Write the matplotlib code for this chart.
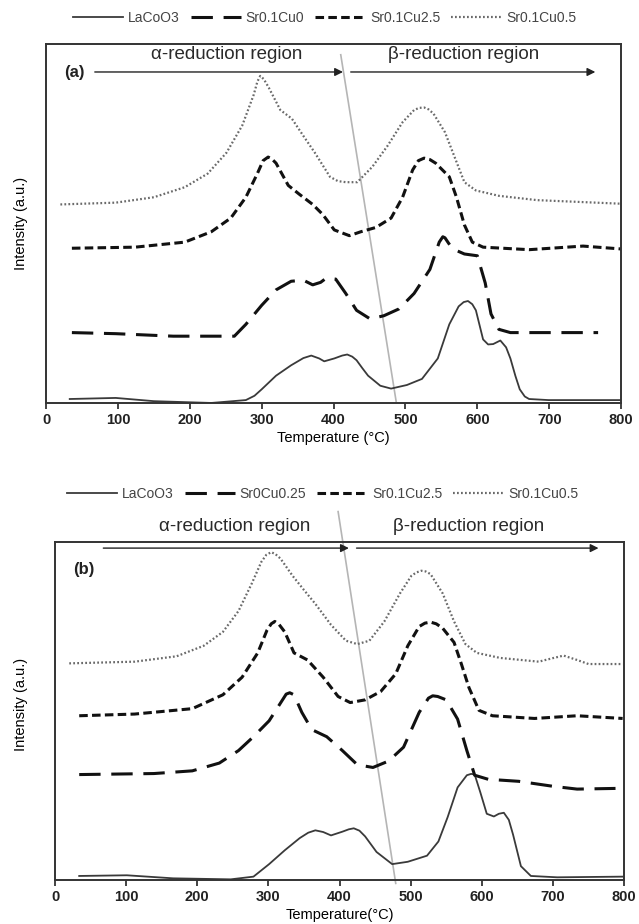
import matplotlib
matplotlib.use("Agg")
import matplotlib.pyplot as plt

plt.rcParams['font.family'] = ['Liberation Sans', 'DejaVu Sans']

# ---- panel (a) data (temperature in C, intensity in % of plot height) ----
a_laco_t = [33, 97, 150, 230, 278, 290, 300, 320, 341, 358, 369, 380, 387, 401, 412, 419, 426, 432, 440,
            448, 465, 480, 502, 523, 545, 561, 574, 581, 587, 593, 598, 608, 615, 622, 632, 640, 646, 653,
            659, 666, 672, 699, 800]
a_laco_y = [1.1, 1.4, 0.5, 0.0, 0.8, 2.0, 3.8, 7.6, 10.5, 12.5, 13.2, 12.4, 11.6, 12.4, 13.2, 13.5, 12.9, 11.9, 9.7,
            7.6, 4.8, 4.0, 5.0, 6.7, 12.4, 21.9, 26.9, 28.1, 28.4, 27.5, 25.8, 17.7, 16.3, 16.4, 17.4, 15.5, 12.4, 7.5,
            3.8, 1.8, 1.1, 0.8, 0.8]

a_cu0_t = [36, 97, 177, 262, 278, 300, 320, 341, 358, 371, 382, 390, 403, 417, 432, 451,
           470, 491, 512, 534, 547, 552, 555, 560, 566, 582, 600, 611, 619, 630, 646, 768]
a_cu0_y = [19.6, 19.3, 18.6, 18.6, 21.9, 27.2, 31.5, 33.9, 34.2, 32.9, 33.6, 34.8, 34.5, 30.5, 25.8, 23.4,
           24.3, 26.2, 30.5, 37.2, 44.8, 46.3, 46.0, 44.5, 42.9, 41.5, 41.0, 33.4, 24.8, 20.5, 19.6, 19.6]

a_cu25_t = [36, 124, 193, 230, 257, 278, 294, 302, 309, 314, 320, 337, 352, 371, 385, 401, 422,
            438, 459, 480, 496, 510, 518, 526, 534, 542, 561, 571, 582, 593, 608, 672, 747, 800]
a_cu25_y = [43.1, 43.4, 44.8, 47.7, 51.5, 57.3, 63.9, 67.5, 68.5, 68.0, 66.8, 60.6, 58.2, 55.3, 52.5, 48.2, 46.6,
            47.7, 48.9, 51.5, 57.3, 64.9, 67.5, 68.2, 67.8, 66.8, 63.0, 57.3, 49.6, 44.8, 43.4, 42.7, 43.7, 42.9]

a_cu05_t = [20, 97, 150, 193, 225, 251, 273, 289, 294, 298, 303, 310, 326, 342, 358, 374, 395,
            406, 417, 433, 454, 475, 496, 512, 519, 526, 532, 539, 555, 568, 582, 598, 630, 683, 800]
a_cu05_y = [55.3, 55.8, 57.3, 60.1, 63.9, 69.7, 77.3, 85.9, 89.5, 91.1, 90.2, 87.8, 81.6, 79.2, 74.4, 69.7, 63.0,
            61.8, 61.5, 61.5, 65.8, 71.6, 78.2, 81.6, 82.2, 82.3, 81.8, 80.6, 75.4, 68.7, 61.5, 59.2, 57.7, 56.5, 55.5]

# ---- panel (b) data ----
b_laco_t = [34, 101, 166, 247, 279, 301, 323, 344, 356, 366, 377, 388, 404, 413, 420, 428, 436, 452, 474,
            496, 523, 539, 552, 566, 579, 585, 590, 598, 607, 617, 624, 631, 638, 644, 655, 669, 706, 798]
b_laco_y = [1.2, 1.4, 0.5, 0.2, 1.0, 4.7, 8.8, 12.4, 14.0, 14.7, 14.2, 13.2, 14.3, 15.0, 15.3, 14.6, 12.9, 8.3, 4.7,
            5.4, 7.2, 11.4, 18.6, 27.4, 31.0, 31.4, 31.2, 25.9, 19.6, 18.8, 19.6, 19.9, 17.8, 13.4, 4.1, 1.2, 0.8, 1.0]

b_cu025_t = [34, 139, 193, 231, 258, 279, 301, 315, 325, 330, 336, 347, 361, 382, 404, 425,
             447, 469, 490, 512, 525, 531, 538, 550, 566, 579, 590, 609, 652, 701, 734, 788]
b_cu025_y = [31.2, 31.5, 32.3, 34.6, 38.3, 42.4, 47.1, 51.7, 55.0, 55.4, 54.8, 49.6, 44.5, 42.4, 38.3, 34.1,
             33.3, 35.2, 39.3, 49.6, 53.8, 54.5, 54.3, 53.3, 47.6, 38.3, 31.0, 29.8, 29.2, 27.7, 26.9, 27.1]

b_cu25_t = [34, 112, 193, 236, 263, 285, 298, 304, 309, 315, 323, 336, 355, 377, 398, 415, 436,
            458, 479, 496, 512, 520, 528, 536, 545, 561, 571, 582, 596, 615, 674, 734, 798]
b_cu25_y = [48.6, 49.1, 50.7, 54.8, 60.0, 67.2, 73.9, 75.8, 76.5, 75.6, 73.4, 67.2, 65.1, 60.0, 54.3, 52.5, 53.3,
            55.8, 61.0, 69.3, 75.0, 76.0, 76.3, 75.8, 74.5, 70.3, 64.1, 56.9, 50.2, 48.6, 47.8, 48.6, 47.8]

b_cu05_t = [20, 112, 171, 209, 236, 258, 277, 290, 297, 304, 310, 317, 334, 350, 366, 388, 409,
            425, 442, 463, 485, 501, 508, 515, 521, 528, 545, 561, 577, 593, 626, 680, 701, 715, 734, 750, 798]
b_cu05_y = [64.1, 64.6, 66.2, 69.3, 73.4, 79.6, 87.9, 94.1, 96.2, 97.0, 96.4, 95.1, 90.0, 85.8, 81.7, 75.5, 70.8,
            69.8, 70.8, 76.5, 84.8, 90.0, 91.0, 91.5, 91.3, 90.5, 84.8, 76.5, 69.8, 67.2, 65.7, 64.6, 65.7, 66.4, 65.1, 63.9, 63.9]

labels_a = ['LaCoO3', 'Sr0.1Cu0', 'Sr0.1Cu2.5', 'Sr0.1Cu0.5']
labels_b = ['LaCoO3', 'Sr0Cu0.25', 'Sr0.1Cu2.5', 'Sr0.1Cu0.5']
xticks = [0, 100, 200, 300, 400, 500, 600, 700, 800]

# region divider (temperature, height)
a_div_t, a_div_y = [410, 487], [97, 0.5]
b_div_t, b_div_y = [398, 479], [109, -1]


def draw_panel(ax, series, labels, tag, arrow_y, div_t, div_y, region_y, xlabel):
    styles = [
        dict(color='#3a3a3a', lw=1.3, ls='-'),
        dict(color='#111111', lw=2.2, ls=(0, (7, 3.5))),
        dict(color='#111111', lw=2.2, ls=(0, (2.8, 1.4))),
        dict(color='#6a6a6a', lw=1.6, ls=(0, (0.8, 1.0))),
    ]
    handles = []
    for (t, y), st, lab in zip(series, styles, labels):
        h, = ax.plot(t, y, label=lab, **st)
        handles.append(h)
    ax.plot(div_t, div_y, color='#b5b5b5', lw=1.2, clip_on=False, zorder=1)

    arrow_kw = dict(arrowstyle='-|>', color='#222222', lw=1.0, mutation_scale=12)
    ax.annotate('', xy=(417, arrow_y), xytext=(64, arrow_y), arrowprops=arrow_kw)
    ax.annotate('', xy=(768, arrow_y), xytext=(420, arrow_y), arrowprops=arrow_kw)
    ax.text(252, region_y, 'α-reduction region', ha='center', va='center', fontsize=13.5, color='#2a2a2a')
    ax.text(581, region_y, 'β-reduction region', ha='center', va='center', fontsize=13.5, color='#2a2a2a')
    ax.text(40, 92, tag, ha='center', va='center', fontsize=12, fontweight='bold', color='#222222')

    ax.set_xlim(0, 800)
    ax.set_ylim(0, 100)
    ax.set_xticks(xticks)
    ax.set_xticklabels([str(v) for v in xticks], fontweight='bold', fontsize=10.5)
    ax.tick_params(axis='x', direction='out', length=4, width=1.2, colors='#222222', pad=3)
    ax.set_yticks([])
    for s in ax.spines.values():
        s.set_linewidth(1.4)
        s.set_color('#333333')
    ax.set_xlabel(xlabel, fontsize=10.5, labelpad=3)
    ax.set_ylabel('Intensity (a.u.)', fontsize=10.5)
    return handles


fig = plt.figure(figsize=(6.39, 9.24), dpi=100)
ax1 = fig.add_axes([0.072, 0.5639, 0.900, 0.3885])
ax2 = fig.add_axes([0.0861, 0.0476, 0.8905, 0.3658])

h1 = draw_panel(ax1, [(a_laco_t, a_laco_y), (a_cu0_t, a_cu0_y), (a_cu25_t, a_cu25_y), (a_cu05_t, a_cu05_y)],
                labels_a, '(a)', 92.2, a_div_t, a_div_y, 97.0, 'Temperature (°C)')
h2 = draw_panel(ax2, [(b_laco_t, b_laco_y), (b_cu025_t, b_cu025_y), (b_cu25_t, b_cu25_y), (b_cu05_t, b_cu05_y)],
                labels_b, '(b)', 98.2, b_div_t, b_div_y, 104.5, 'Temperature(°C)')
ax1.yaxis.set_label_coords(-0.031, 0.5)
ax2.yaxis.set_label_coords(-0.047, 0.52)

leg_kw = dict(loc='center', ncol=4, frameon=False, fontsize=10, handlelength=3.6,
              columnspacing=0.8, handletextpad=0.35, labelcolor='#444444')
fig.legend(handles=h1, bbox_to_anchor=(0.508, 0.9805), **leg_kw)
fig.legend(handles=h2, bbox_to_anchor=(0.505, 0.4654), **leg_kw)

fig.savefig('out.png', dpi=100)
